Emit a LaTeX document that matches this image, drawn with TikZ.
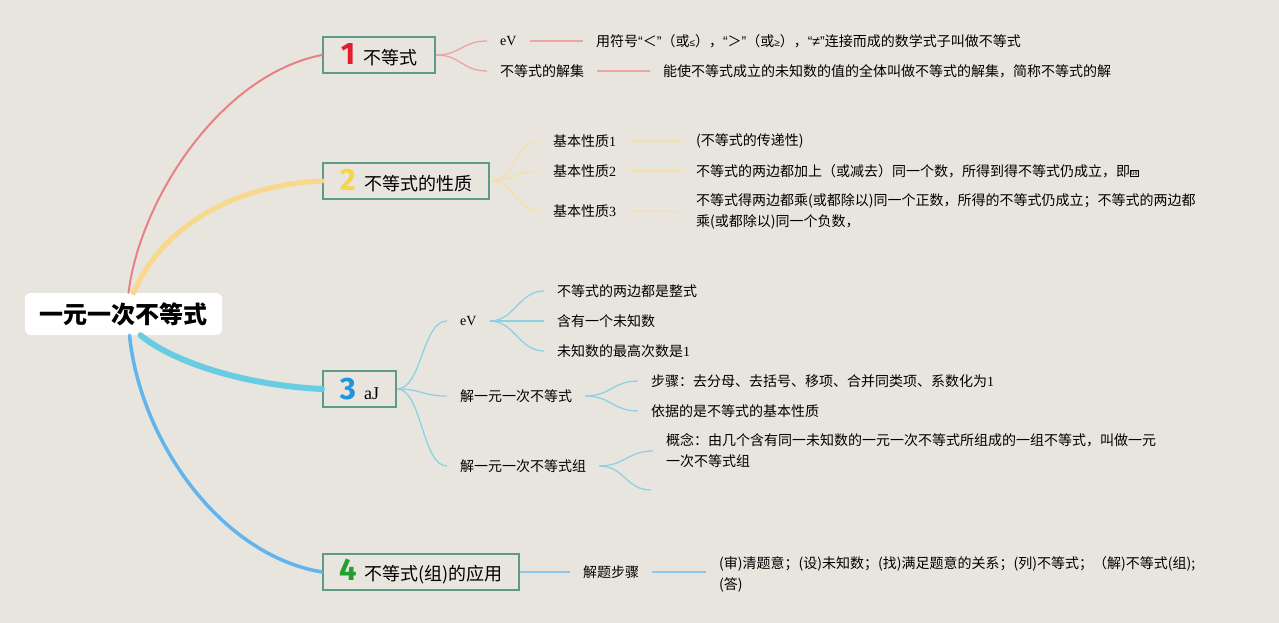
\documentclass[tikz,border=0pt]{standalone}
\usepackage{fontspec}
\setmainfont{Noto Sans CJK SC}
\newfontfamily\lat{Liberation Serif}
\newfontfamily\lsans{Liberation Sans}
\newfontfamily\numfnt{Fira Sans}
\definecolor{bgc}{RGB}{232,229,222}
\definecolor{boxc}{RGB}{94,154,134}
\definecolor{pinkc}{RGB}{232,128,132}
\definecolor{pinkl}{RGB}{236,164,164}
\definecolor{yelc}{RGB}{248,216,138}
\definecolor{yell}{RGB}{246,224,168}
\definecolor{cyanc}{RGB}{104,204,226}
\definecolor{cyanl}{RGB}{140,210,226}
\definecolor{bluec}{RGB}{98,180,236}
\definecolor{bluel}{RGB}{140,198,234}
\definecolor{n1}{RGB}{224,30,46}
\definecolor{n2}{RGB}{245,214,72}
\definecolor{n3}{RGB}{32,148,222}
\definecolor{n4}{RGB}{34,160,46}
\newcommand{\bignum}[2]{{\numfnt\bfseries\fontsize{31}{31}\selectfont\color{#1}#2}\hspace{8pt}}
\begin{document}
\begin{tikzpicture}[x=1pt,y=-1pt,
  rootbox/.style={fill=white, rounded corners=6pt, minimum width=197pt, minimum height=42pt, inner sep=0pt, font=\fontsize{24}{24}\selectfont\bfseries},
  topic/.style={draw=boxc, line width=2pt, fill=bgc, minimum height=36pt, inner sep=0pt, anchor=west, font=\fontsize{18}{18}\selectfont},
  leaf/.style={anchor=west, inner xsep=13pt, inner ysep=2pt, font=\fontsize{14}{21}\selectfont, align=left},
  br/.style={line cap=round},
]
\fill[bgc] (0,0) rectangle (1279,623);
\useasboundingbox (0,0) rectangle (1279,623);

% root
\node[rootbox] (root) at (123.5,314) {一元一次不等式};

% topics
\node[topic, minimum width=112pt] (t1) at (322,55) {\bignum{n1}{1}不等式};
\node[topic, minimum width=166pt] (t2) at (322,181) {\bignum{n2}{2}不等式的性质};
\node[topic, minimum width=73pt] (t3) at (322,389) {\bignum{n3}{3}{\lat aJ}};
\node[topic, minimum width=196pt] (t4) at (322,572) {\bignum{n4}{4}不等式(组)的应用};

% main branches
\draw[br, pinkc, line width=2pt] ([xshift=5pt]root.north) .. controls (140,200) and (220,75) .. (t1.west);
\draw[br, yelc, line width=5pt] ([xshift=10pt]root.north) .. controls (160,230) and (230,185) .. (t2.west);
\draw[br, cyanc, line width=6pt] ([xshift=17pt]root.south) .. controls (170,360) and (240,385) .. (t3.west);
\draw[br, bluec, line width=3.5pt] ([xshift=6pt]root.south) .. controls (140,440) and (220,555) .. (t4.west);

% topic 1 children
\node[leaf] (a1) at (487,41) {\lat eV};
\node[leaf] (a2) at (487,71) {不等式的解集};
\node[leaf] (a1d) at (583,41) {用符号{\lsans“}＜{\lsans”}（或{\lsans\fontsize{10}{10}\selectfont≤}），{\lsans“}＞{\lsans”}（或{\lsans\fontsize{10}{10}\selectfont≥}），{\lsans“≠”}连接而成的数学式子叫做不等式};
\node[leaf] (a2d) at (650,71) {能使不等式成立的未知数的值的全体叫做不等式的解集，简称不等式的解};
\draw[pinkl, line width=1.3pt] (t1.east) .. controls +(25,0) and +(-25,0) .. (a1.west);
\draw[pinkl, line width=1.3pt] (t1.east) .. controls +(25,0) and +(-25,0) .. (a2.west);
\draw[pinkl, line width=1.3pt] (a1.east) -- (a1d.west);
\draw[pinkl, line width=1.3pt] (a2.east) -- (a2d.west);

% topic 2 children
\node[leaf] (b1) at (540,141) {基本性质{\lat 1}};
\node[leaf] (b2) at (540,171) {基本性质{\lat 2}};
\node[leaf] (b3) at (540,211) {基本性质{\lat 3}};
\node[leaf] (b1d) at (683,141) {(不等式的传递性)};
\node[leaf] (b2d) at (683,171) {不等式的两边都加上（或减去）同一个数，所得到得不等式仍成立，即{\fontsize{6}{6}\selectfont\setlength{\fboxsep}{0.6pt}\setlength{\fboxrule}{0.3pt}\raisebox{1pt}{\fbox{08}}}};
\node[leaf] (b3d) at (683,211.5) {不等式得两边都乘(或都除以)同一个正数，所得的不等式仍成立；不等式的两边都\\乘(或都除以)同一个负数，};
\foreach \n in {b1,b2,b3}
  \draw[yell, line width=1.3pt] (t2.east) .. controls +(25,0) and +(-25,0) .. (\n.west);
\draw[yell, line width=1.3pt] (b1.east) -- (b1d.west);
\draw[yell, line width=1.3pt] (b2.east) -- (b2d.west);
\draw[yell, line width=1.3pt] (b3.east) -- (b3d.west);

% topic 3 children
\node[leaf] (c1) at (447,321) {\lat eV};
\node[leaf] (c2) at (447,396) {解一元一次不等式};
\node[leaf] (c3) at (447,466) {解一元一次不等式组};
\foreach \n in {c1,c2,c3}
  \draw[cyanl, line width=1.3pt] (t3.east) .. controls +(25,0) and +(-25,0) .. (\n.west);

\node[leaf] (c11) at (544,291) {不等式的两边都是整式};
\node[leaf] (c12) at (544,321) {含有一个未知数};
\node[leaf] (c13) at (544,351) {未知数的最高次数是{\lat 1}};
\foreach \n in {c11,c12,c13}
  \draw[cyanl, line width=1.3pt] (c1.east) .. controls +(25,0) and +(-25,0) .. (\n.west);

\node[leaf] (c21) at (638,381) {步骤：去分母、去括号、移项、合并同类项、系数化为{\lat 1}};
\node[leaf] (c22) at (638,411) {依据的是不等式的基本性质};
\foreach \n in {c21,c22}
  \draw[cyanl, line width=1.3pt] (c2.east) .. controls +(25,0) and +(-25,0) .. (\n.west);

\node[leaf] (c31) at (653,451) {概念：由几个含有同一未知数的一元一次不等式所组成的一组不等式，叫做一元\\一次不等式组};
\coordinate (c32) at (651,490);
\draw[cyanl, line width=1.3pt] (c3.east) .. controls +(25,0) and +(-25,0) .. (c31.west);
\draw[cyanl, line width=1.3pt] (c3.east) .. controls +(25,0) and +(-25,0) .. (c32);

% topic 4 children
\node[leaf] (d1) at (570,572) {解题步骤};
\node[leaf] (d1d) at (706,574) {(审)清题意；(设)未知数；(找)满足题意的关系；(列)不等式；（解)不等式(组);\\(答)};
\draw[bluel, line width=1.3pt] (t4.east) -- (d1.west);
\draw[bluel, line width=1.3pt] (d1.east) -- (d1.east -| d1d.west);
\end{tikzpicture}
\end{document}
